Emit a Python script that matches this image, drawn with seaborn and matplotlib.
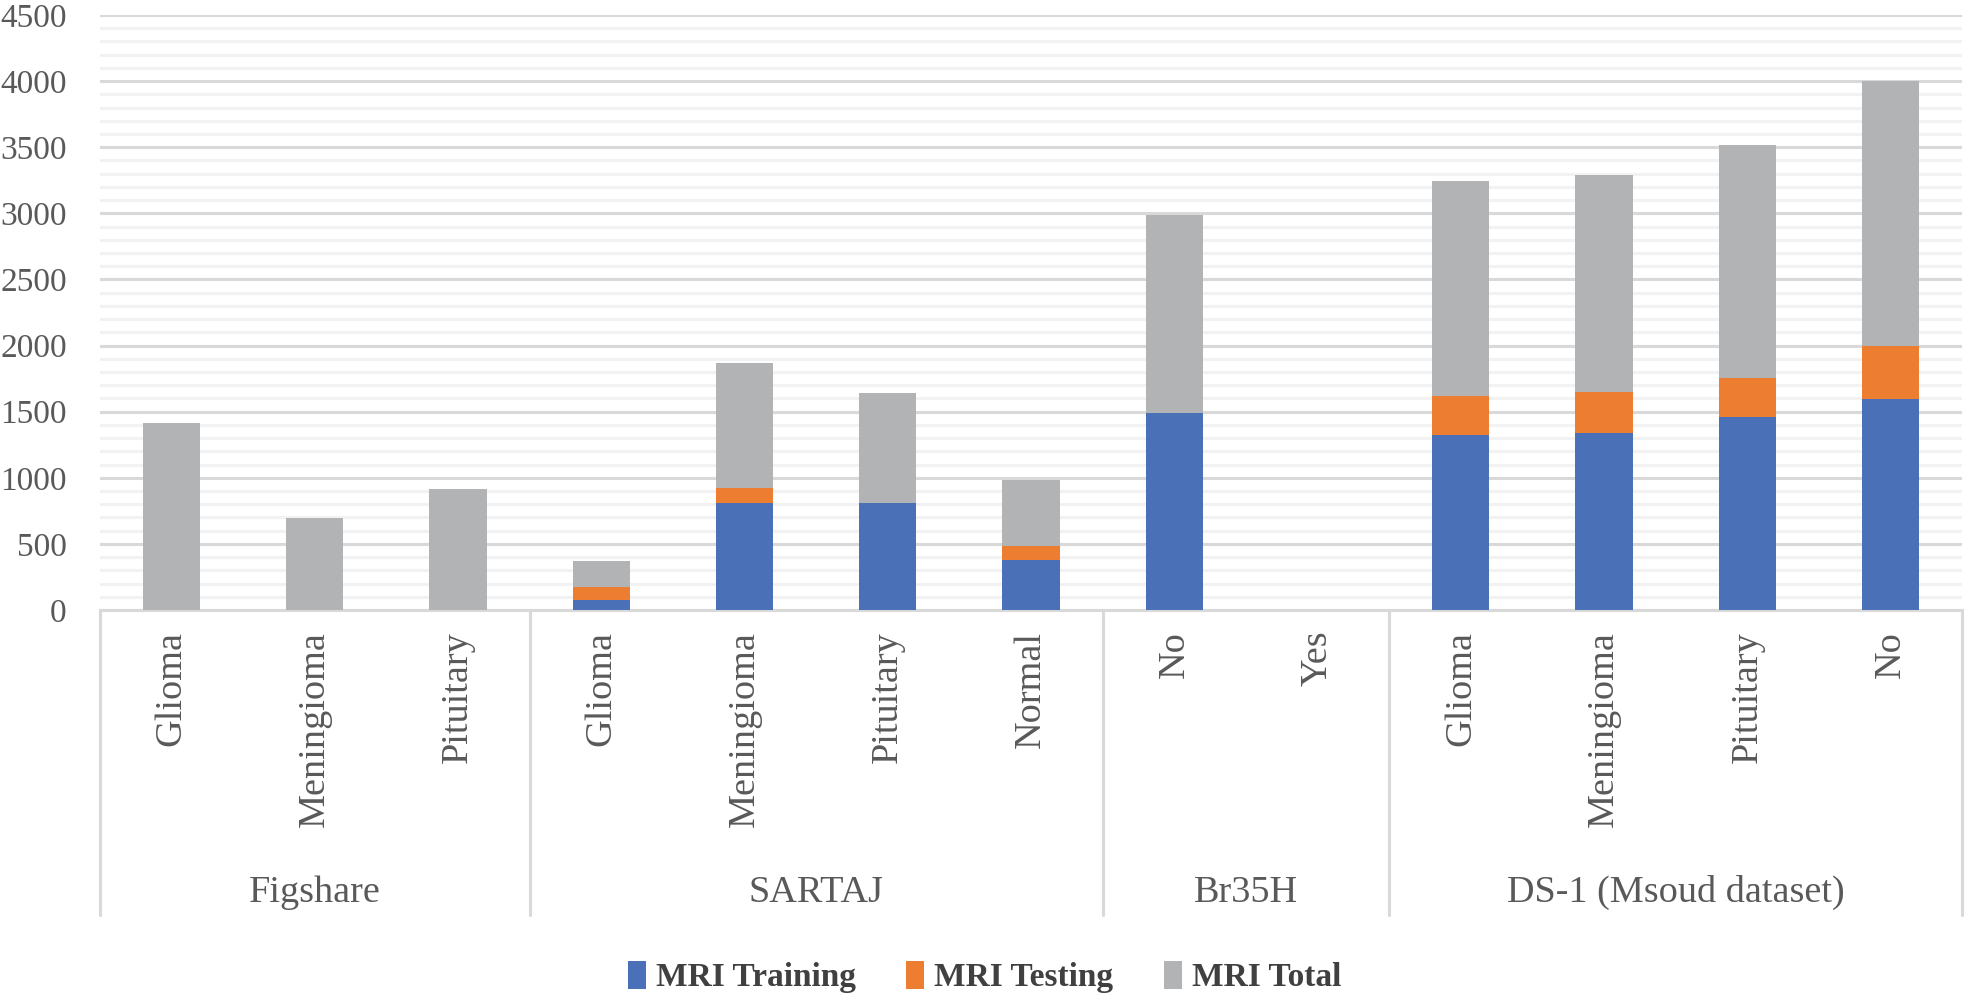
import matplotlib
matplotlib.use("Agg")
import matplotlib.pyplot as plt
import matplotlib.transforms as mtransforms
from matplotlib.lines import Line2D
from matplotlib.patches import Patch
from matplotlib.ticker import MultipleLocator
import seaborn as sns
import pandas as pd
import numpy as np

# ---- data ----
groups = ["Figshare", "SARTAJ", "Br35H", "DS-1 (Msoud dataset)"]
group_sizes = [3, 4, 2, 4]
categories = ["Glioma", "Meningioma", "Pituitary",
              "Glioma", "Meningioma", "Pituitary", "Normal",
              "No", "Yes",
              "Glioma", "Meningioma", "Pituitary", "No"]
mri_training = [0, 0, 0, 75, 810, 810, 380, 1490, 0, 1321, 1339, 1457, 1595]
mri_testing = [0, 0, 0, 102, 115, 0, 102, 0, 0, 300, 306, 300, 405]
mri_total = [1415, 695, 918, 194, 940, 833, 503, 1500, 0, 1621, 1645, 1757, 2000]
series_names = ["MRI Training", "MRI Testing", "MRI Total"]
colors = ["#4A71B7", "#ED7D31", "#B2B3B4"]

sns.set_theme(style="white")
plt.rcParams["font.family"] = ["Liberation Serif", "DejaVu Serif"]

ids = [f"{i:02d}" for i in range(len(categories))]
train = np.array(mri_training, float)
test = np.array(mri_testing, float)
tot = np.array(mri_total, float)
df = pd.DataFrame({"id": ids,
                   "c1": train,
                   "c2": train + test,
                   "c3": train + test + tot})

W, H = 1969, 1001
fig = plt.figure(figsize=(W / 100, H / 100), dpi=100)
ax = fig.add_axes([100 / W, (H - 610) / H, 1862 / W, 595 / H])

# layered cumulative bars (tallest first)
for col, color in zip(["c3", "c2", "c1"], colors[::-1]):
    sns.barplot(data=df, x="id", y=col, order=ids, color=color, width=0.4,
                saturation=1, ax=ax, zorder=3, linewidth=0)

ax.set_xlim(-0.5, len(ids) - 0.5)
ax.set_ylim(0, 4500)
ax.yaxis.set_major_locator(MultipleLocator(500))
ax.yaxis.set_minor_locator(MultipleLocator(100))
ax.grid(which="major", axis="y", color="#D9D9D9", linewidth=2.2, zorder=1)
ax.grid(which="minor", axis="y", color="#F2F2F2", linewidth=2.2, zorder=0)
ax.grid(which="major", axis="x", visible=False)
for s in ["left", "right", "top"]:
    ax.spines[s].set_visible(False)
ax.spines["bottom"].set_color("#D9D9D9")
ax.spines["bottom"].set_linewidth(2.2)
ax.set_xlabel("")
ax.set_ylabel("")

ax.tick_params(axis="y", which="both", length=0, pad=24, labelsize=24,
               labelcolor="#595959")
ax.set_xticks(range(len(ids)))
ax.set_xticklabels(categories, rotation=90, va="top", ha="center")
ax.tick_params(axis="x", length=0, pad=15, labelsize=27.5, labelcolor="#595959")

# group separators and labels
trans = mtransforms.blended_transform_factory(ax.transData, fig.transFigure)
bounds = np.concatenate([[0], np.cumsum(group_sizes)]) - 0.5
y_top = (H - 611) / H
y_bot = (H - 915) / H
for b in bounds:
    ax.add_line(Line2D([b, b], [y_top, y_bot], transform=trans, color="#D9D9D9",
                       linewidth=2.2, clip_on=False))
for g, lo, hi in zip(groups, bounds[:-1], bounds[1:]):
    ax.text((lo + hi) / 2, (H - 902) / H, g, transform=trans, ha="center",
            va="baseline", fontsize=27.5, color="#595959")

handles = [Patch(facecolor=c, edgecolor="none") for c in colors]
fig.legend(handles, series_names, loc="center", bbox_to_anchor=(0.5, (H - 977) / H),
           ncol=3, frameon=False, handlelength=0.55, handleheight=0.9,
           handletextpad=0.3, columnspacing=1.5,
           prop={"family": "Liberation Serif", "weight": "bold", "size": 24},
           labelcolor="#404040")

fig.savefig("out.png", dpi=100)
